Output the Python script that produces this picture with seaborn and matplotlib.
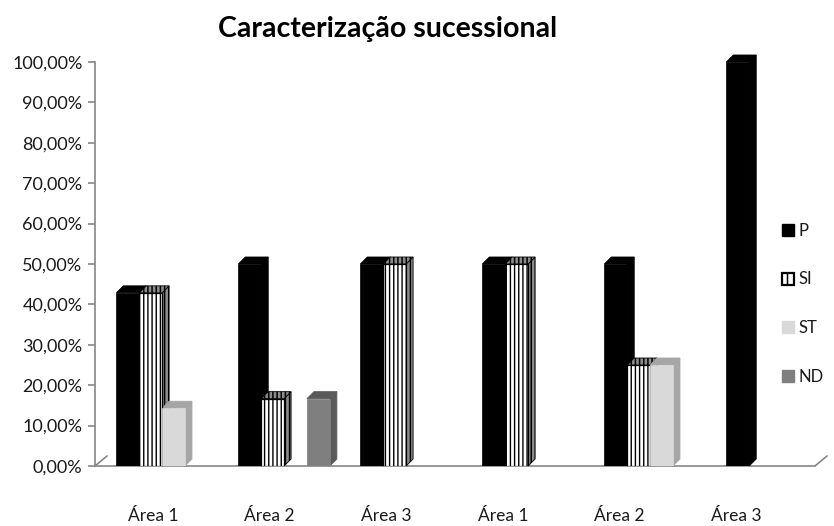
import numpy as np
import pandas as pd
import seaborn as sns
import matplotlib
matplotlib.use("Agg")
import matplotlib.pyplot as plt
from matplotlib.patches import Polygon, Patch
from matplotlib.lines import Line2D

# Successional characterisation per area (percent of species)
areas = ["Área 1", "Área 2", "Área 3", "Área 1", "Área 2", "Área 3"]
classes = ["P", "SI", "ST", "ND"]
p_vals = [42.86, 50.00, 50.00, 50.00, 50.00, 100.00]
si_vals = [42.86, 16.67, 50.00, 50.00, 25.00, 0.00]
st_vals = [14.29, 0.00, 0.00, 0.00, 25.00, 0.00]
nd_vals = [0.00, 16.67, 0.00, 0.00, 0.00, 0.00]
y_ticks = [0, 10, 20, 30, 40, 50, 60, 70, 80, 90, 100]

front_colors = {"P": "#000000", "SI": "#ffffff", "ST": "#d9d9d9", "ND": "#7f7f7f"}
side_colors = {"P": "#000000", "SI": "#8c8c8c", "ST": "#a6a6a6", "ND": "#5a5a5a"}

rows = []
for i in range(len(areas)):
    for cls, vals in zip(classes, [p_vals, si_vals, st_vals, nd_vals]):
        rows.append({"grupo": i, "classe": cls, "valor": vals[i]})
df = pd.DataFrame(rows)

sns.set_theme(style="white")
plt.rcParams["font.family"] = ["Lato", "DejaVu Sans"]

W, H = 834, 526
fig = plt.figure(figsize=(W / 100, H / 100), dpi=100)
ax_left, ax_right, ax_bottom, ax_top = 95, 827, 466, 62
ax = fig.add_axes([ax_left / W, 1 - ax_bottom / H,
                   (ax_right - ax_left) / W, (ax_bottom - ax_top) / H])

sns.barplot(data=df, x="grupo", y="valor", hue="classe", hue_order=classes,
            palette=front_colors, width=0.75, saturation=1, legend=False,
            ax=ax, zorder=3)

ax.set_xlim(-0.55, 5.45)
ax.set_ylim(0, 100)

# pixel -> data conversion for the depth of the pseudo-3D faces
p0 = ax.transData.transform((0, 0))
p1 = ax.transData.transform((1, 1))
dx = 7 / (p1[0] - p0[0])
dy = 7 / (p1[1] - p0[1])

plt.rcParams["hatch.linewidth"] = 1.1
for cls, container in zip(classes, ax.containers):
    for bar in container:
        h = bar.get_height()
        if h <= 0:
            bar.set_visible(False)
            continue
        x0 = bar.get_x()
        x1 = x0 + bar.get_width()
        if cls == "SI":
            bar.set_facecolor("white")
            bar.set_edgecolor("black")
            bar.set_hatch("||||")
            bar.set_linewidth(0.9)
        else:
            bar.set_edgecolor(front_colors[cls])
            bar.set_linewidth(0.5)
        side = Polygon([(x1, 0), (x1 + dx, dy), (x1 + dx, h + dy), (x1, h)],
                       closed=True, facecolor=side_colors[cls],
                       edgecolor="black" if cls == "SI" else side_colors[cls],
                       linewidth=0.6, zorder=2, clip_on=False,
                       hatch="||||" if cls == "SI" else None)
        top = Polygon([(x0, h), (x0 + dx, h + dy), (x1 + dx, h + dy), (x1, h)],
                      closed=True, facecolor=side_colors[cls] if cls != "P" else "black",
                      edgecolor="black" if cls == "SI" else side_colors[cls],
                      linewidth=0.6, zorder=2, clip_on=False,
                      hatch="||||" if cls == "SI" else None)
        ax.add_patch(side)
        ax.add_patch(top)

# floor outline
axis_grey = "#868686"
fx = 12 / (p1[0] - p0[0])
fy = 10 / (p1[1] - p0[1])
ax.add_line(Line2D([-0.55, 5.45 - fx], [0, 0], color=axis_grey, lw=1.2,
                   zorder=1, clip_on=False))
ax.add_line(Line2D([5.45 - fx, 5.45], [0, fy], color=axis_grey, lw=1.2,
                   zorder=1, clip_on=False))
ax.add_line(Line2D([-0.55, -0.55 + fx], [0, fy], color=axis_grey, lw=1.2,
                   zorder=1, clip_on=False))

for s in ["top", "right", "bottom"]:
    ax.spines[s].set_visible(False)
ax.spines["left"].set_color(axis_grey)
ax.spines["left"].set_linewidth(1.2)

ax.set_yticks(y_ticks)
ax.set_yticklabels([f"{v:.2f}%".replace(".", ",") for v in y_ticks])
ax.tick_params(axis="y", left=True, length=5, width=1.2, color=axis_grey,
               labelsize=13, labelcolor="#1a1a1a", pad=4)

# category labels sit slightly left of the group centres (perspective)
ax.set_xticks(np.arange(len(areas)) * 0.956 - 0.075)
ax.set_xticklabels(areas)
ax.tick_params(axis="x", bottom=False, labelsize=12.5, labelcolor="#1a1a1a", pad=24)
ax.set_xlabel("")
ax.set_ylabel("")

fig.text(388 / W, 1 - 29 / H, "Caracterização sucessional", ha="center", va="center",
         fontsize=20.5, fontweight="bold", color="black")

handles = [
    Patch(facecolor="black", edgecolor="black", label="P"),
    Patch(facecolor="white", edgecolor="black", hatch="||", linewidth=1.6, label="SI"),
    Patch(facecolor="#d9d9d9", edgecolor="#d9d9d9", label="ST"),
    Patch(facecolor="#7f7f7f", edgecolor="#7f7f7f", label="ND"),
]
fig.legend(handles=handles, loc="upper left", bbox_to_anchor=(767 / W, 1 - 208 / H),
           frameon=False, fontsize=12, labelspacing=1.95, handlelength=0.7,
           handleheight=0.7, handletextpad=0.3, labelcolor="#1a1a1a")

fig.savefig("out.png", dpi=100)
